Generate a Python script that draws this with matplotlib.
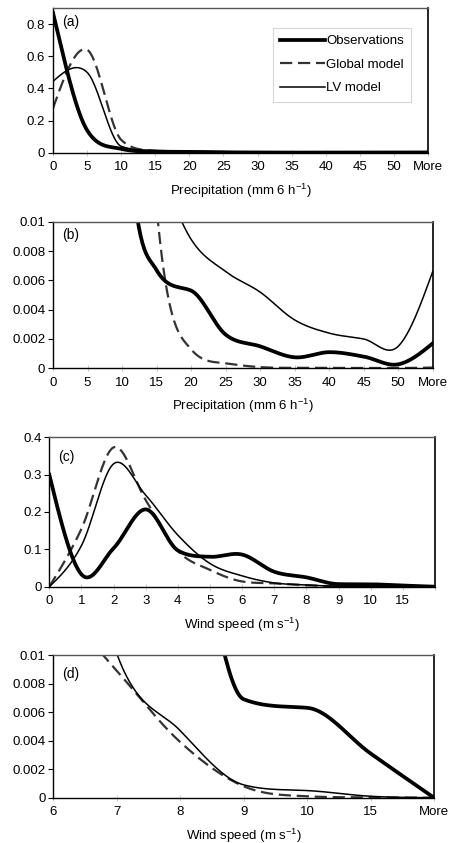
import numpy as np
import matplotlib
matplotlib.use("Agg")
import matplotlib.pyplot as plt
from matplotlib.lines import Line2D

plt.rcParams['font.family'] = ['Liberation Sans', 'DejaVu Sans']
plt.rcParams['mathtext.fontset'] = 'custom'
plt.rcParams['mathtext.rm'] = 'Liberation Sans'
plt.rcParams['mathtext.it'] = 'Liberation Sans:italic'
plt.rcParams['mathtext.default'] = 'regular'
FS = 9.5

# ---------------- data ----------------
precip_cats = ['0', '5', '10', '15', '20', '25', '30', '35', '40', '45', '50', 'More']
precip_obs = [0.87, 0.14, 0.024, 0.0067, 0.0053, 0.0023, 0.0015, 0.00075, 0.0011, 0.0008, 0.00027, 0.0017]
precip_global = [0.277, 0.64, 0.08, 0.011, 0.0013, 0.00034, 0.00008, 0.00003, 0.00003, 0.00002, 0.00002, 0.00005]
precip_lv = [0.444, 0.50, 0.04, 0.014, 0.0088, 0.0066, 0.0052, 0.0033, 0.0024, 0.0020, 0.0015, 0.0066]

wind_cats = ['0', '1', '2', '3', '4', '5', '6', '7', '8', '9', '10', '15', 'More']
wind_obs = [0.30, 0.033, 0.103, 0.207, 0.097, 0.08, 0.086, 0.04, 0.025, 0.0069, 0.0063, 0.0031, 0.0]
wind_global = [0.0, 0.155, 0.373, 0.232, 0.096, 0.045, 0.014, 0.0089, 0.0039, 0.0008, 0.0001, 0.00002, 0.0]
wind_lv = [0.0, 0.11, 0.329, 0.245, 0.138, 0.062, 0.029, 0.0101, 0.0047, 0.0009, 0.0005, 0.0001, 0.0]

W, H = 449, 843


def smooth(y, n=40):
    """Smoothed line through category points (Catmull-Rom tangents, natural ends,
    limited where they would overshoot inside a monotone stretch)."""
    y = np.asarray(y, float)
    N = len(y)
    d = np.diff(y)
    m = np.zeros(N)
    for k in range(1, N - 1):
        m[k] = (y[k + 1] - y[k - 1]) / 2.0
    m[0] = (3 * d[0] - m[1]) / 2.0
    m[-1] = (3 * d[-1] - m[-2]) / 2.0
    for k in range(N - 1):
        if d[k] == 0:
            m[k] = m[k + 1] = 0.0
            continue
        a = m[k] / d[k]
        b = m[k + 1] / d[k]
        if a >= 0 and b >= 0:
            s = a * a + b * b
            if s > 9:
                tau = 3.0 / np.sqrt(s)
                m[k] = tau * a * d[k]
                m[k + 1] = tau * b * d[k]
    xs, ys = [], []
    t = np.linspace(0, 1, n)
    h00 = 2 * t ** 3 - 3 * t ** 2 + 1
    h10 = t ** 3 - 2 * t ** 2 + t
    h01 = -2 * t ** 3 + 3 * t ** 2
    h11 = t ** 3 - t ** 2
    for k in range(N - 1):
        yy = h00 * y[k] + h10 * m[k] + h01 * y[k + 1] + h11 * m[k + 1]
        xx = k + t
        if k > 0:
            xx, yy = xx[1:], yy[1:]
        xs.append(xx)
        ys.append(yy)
    return np.concatenate(xs), np.concatenate(ys)


def make_ax(fig, left, right, top, bottom):
    return fig.add_axes([left / W, 1 - bottom / H, (right - left) / W, (bottom - top) / H])


def style(ax, ncat, xmax, labels, ylim, yticks, ylabels, xlabel, tag, tagy):
    ax.set_xlim(0, xmax)
    ax.set_ylim(*ylim)
    ax.set_xticks(np.arange(ncat))
    ax.set_xticklabels(labels, fontsize=FS)
    ax.set_yticks(yticks)
    ax.set_yticklabels(ylabels, fontsize=FS)
    ax.tick_params(axis='x', direction='inout', length=5, width=0.6, color='#bbbbbb', pad=3.5)
    ax.tick_params(axis='y', direction='out', length=3.5, width=0.8, color='black', pad=2)
    for s in ['left', 'bottom']:
        ax.spines[s].set_color('black')
        ax.spines[s].set_linewidth(1.0)
    ax.spines['right'].set_color('black')
    ax.spines['right'].set_linewidth(1.2)
    ax.spines['top'].set_color('#555555')
    ax.spines['top'].set_linewidth(1.0)
    ax.set_xlabel(xlabel, fontsize=FS, labelpad=6)
    ax.text(0.024, tagy, tag, transform=ax.transAxes, fontsize=FS + 0.5, va='center', ha='left')


def draw(ax, obs, glob, lv):
    x, y = smooth(glob)
    ax.plot(x, y, color='#333333', lw=1.6, dashes=(5.5, 2.6), solid_capstyle='butt')
    x, y = smooth(lv)
    ax.plot(x, y, color='black', lw=1.1)
    x, y = smooth(obs)
    ax.plot(x, y, color='black', lw=2.7)


fig = plt.figure(figsize=(W / 100, H / 100), dpi=100)

precip_label = r'Precipitation (mm 6 h$^{-1}$)'
wind_label = r'Wind speed (m s$^{-1}$)'

# (a)
ax = make_ax(fig, 53, 428, 8, 152.7)
draw(ax, precip_obs, precip_global, precip_lv)
style(ax, len(precip_cats), len(precip_cats) - 1, precip_cats, (0, 0.9),
      [0, 0.2, 0.4, 0.6, 0.8], ['0', '0.2', '0.4', '0.6', '0.8'], precip_label, '(a)', 0.90)
handles = [Line2D([], [], color='black', lw=2.7),
           Line2D([], [], color='#333333', lw=1.6, dashes=(5.5, 2.6)),
           Line2D([], [], color='black', lw=1.1)]
leg = ax.legend(handles, ['Observations', 'Global model', 'LV model'], loc='upper left',
                bbox_to_anchor=((273 - 53) / 375, (152.7 - 28) / 144.7), fontsize=FS,
                frameon=True, fancybox=False, edgecolor='#cccccc', handlelength=3.4,
                handletextpad=0.1, borderpad=0.55, labelspacing=0.85, borderaxespad=0)
leg.get_frame().set_linewidth(0.8)

# (b)
ax = make_ax(fig, 53, 432.7, 221.7, 368.3)
draw(ax, precip_obs, precip_global, precip_lv)
style(ax, len(precip_cats), len(precip_cats) - 1, precip_cats, (0, 0.01),
      [0, 0.002, 0.004, 0.006, 0.008, 0.01], ['0', '0.002', '0.004', '0.006', '0.008', '0.01'],
      precip_label, '(b)', 0.91)

# (c)
ax = make_ax(fig, 49.3, 435, 437.3, 586.7)
draw(ax, wind_obs, wind_global, wind_lv)
style(ax, len(wind_cats), len(wind_cats) - 1, wind_cats[:-1] + [''], (0, 0.4),
      [0, 0.1, 0.2, 0.3, 0.4], ['0', '0.1', '0.2', '0.3', '0.4'], wind_label, '(c)', 0.87)

# (d)
d0 = wind_cats.index('6')
ax = make_ax(fig, 53.3, 434, 655, 797.7)
draw(ax, wind_obs[d0:], wind_global[d0:], wind_lv[d0:])
style(ax, len(wind_cats) - d0, len(wind_cats) - d0 - 1, wind_cats[d0:], (0, 0.01),
      [0, 0.002, 0.004, 0.006, 0.008, 0.01], ['0', '0.002', '0.004', '0.006', '0.008', '0.01'],
      wind_label, '(d)', 0.87)

fig.savefig('out.png', dpi=100)
